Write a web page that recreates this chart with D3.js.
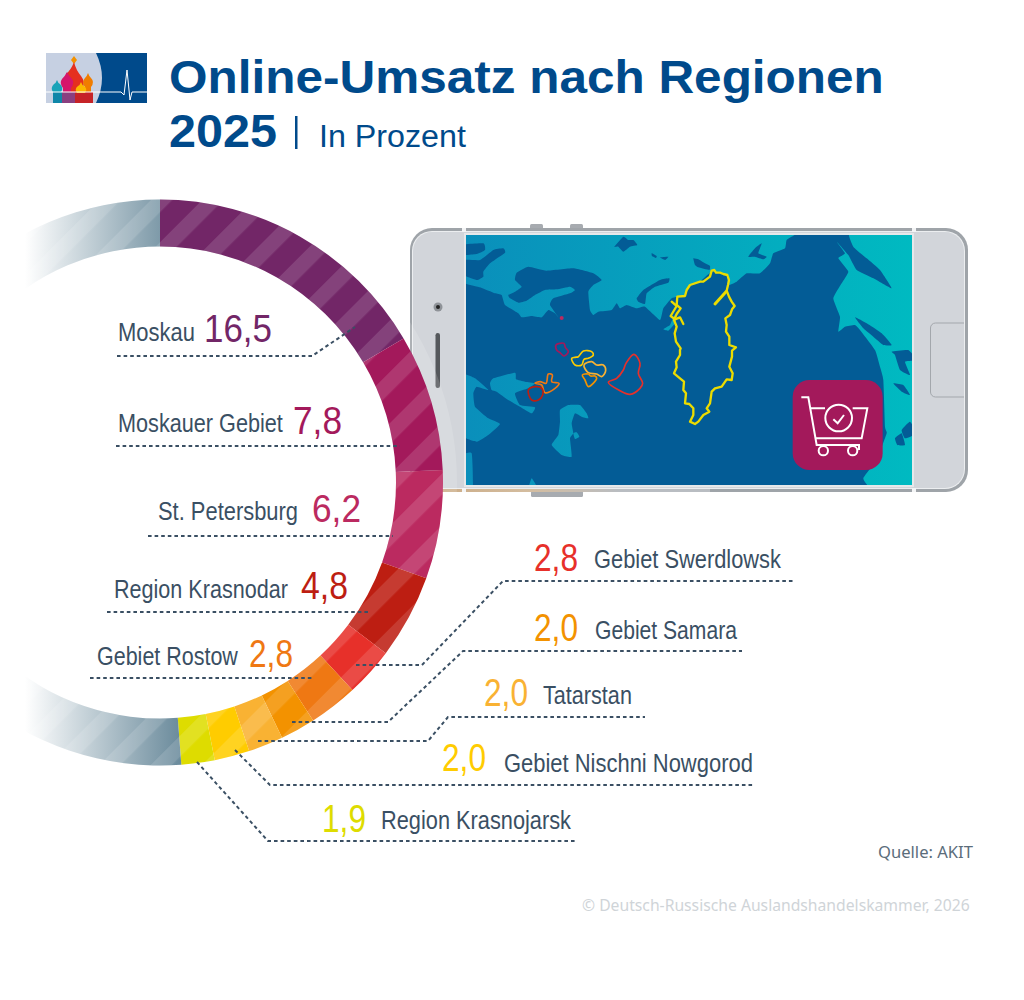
<!DOCTYPE html>
<html>
<head>
<meta charset="utf-8">
<script src="https://d3js.org/d3.v7.min.js"></script>
<style>
  html, body { margin: 0; background: #fff; }
  svg { display: block; }
  .name { font-family: "Liberation Sans", sans-serif; font-size: 25px; fill: #3a4f63; }
  .value { font-family: "Liberation Sans", sans-serif; font-size: 38px; }
  .head { font-family: "Liberation Sans", sans-serif; fill: #004a8b; }
  .foot { font-family: "Noto Sans", sans-serif; font-size: 16px; }
</style>
</head>
<body>
<div id="chart"></div>
<script>
// chart values
const regions = ["Moskau", "Moskauer Gebiet", "St. Petersburg", "Region Krasnodar", "Gebiet Swerdlowsk",
  "Gebiet Rostow", "Gebiet Samara", "Tatarstan", "Gebiet Nischni Nowgorod", "Region Krasnojarsk"];
const shares = [16.5, 7.8, 6.2, 4.8, 2.8, 2.8, 2.0, 2.0, 2.0, 1.9];
const rest = 51.2;
const colours = ["#722667", "#a3195b", "#bb2a60", "#bd1e12", "#e7302a", "#ef7813", "#f39200", "#f9b233", "#ffcc00", "#dedc00"];

// label placement, same order as regions
const callouts = [
  { nx: 118, nw: 77, ny: 341, vx: 204, vw: 68, vy: 342, line: [[117, 356], [312, 356], [355, 327]] },
  { nx: 118, nw: 165, ny: 432, vx: 293, vw: 49, vy: 434, line: [[116, 446], [400, 446]] },
  { nx: 158, nw: 140, ny: 520, vx: 312, vw: 49, vy: 522, line: [[148, 536], [393, 536]] },
  { nx: 114, nw: 174, ny: 598, vx: 301, vw: 47, vy: 599, line: [[107, 612], [368, 612]] },
  { nx: 594, nw: 187, ny: 568, vx: 534, vw: 44, vy: 571, line: [[356, 665], [422, 665], [503, 581], [793, 581]] },
  { nx: 97, nw: 141, ny: 665, vx: 249, vw: 44, vy: 667, line: [[90, 678], [313, 678]] },
  { nx: 595, nw: 142, ny: 639, vx: 534, vw: 44, vy: 641, line: [[292, 722], [388, 722], [463, 651], [742, 651]] },
  { nx: 543, nw: 89, ny: 704, vx: 484, vw: 44, vy: 706, line: [[258, 741], [428, 741], [448, 717], [645, 717]] },
  { nx: 504, nw: 249, ny: 772, vx: 442, vw: 44, vy: 771, line: [[235, 750], [270, 785], [753, 785]] },
  { nx: 381, nw: 190, ny: 829, vx: 322, vw: 44, vy: 832, line: [[197, 762], [268, 841], [577, 841]] }
];

// map outlines, in 3x pixels from (460,230)
const seaNorth = [[0,0],[1010,0],[1005,14],[980,30],[975,55],[940,70],[930,100],[900,130],[860,130],[830,155],[805,165],[800,135],[755,125],[720,155],[690,165],[675,195],[650,200],[635,205],[610,235],[600,270],[555,230],[530,235],[500,225],[480,235],[470,220],[455,240],[415,245],[400,255],[390,240],[385,185],[400,165],[425,150],[400,130],[340,115],[260,122],[205,110],[170,128],[165,150],[185,170],[165,185],[145,195],[150,205],[175,218],[200,212],[225,195],[255,180],[290,178],[330,170],[345,180],[330,190],[280,205],[270,225],[300,268],[285,250],[265,240],[245,262],[215,258],[185,262],[175,250],[135,225],[125,195],[105,190],[60,172],[0,150]];
const seaEast = [[1170,0],[1370,0],[1370,780],[1240,780],[1210,745],[1250,690],[1280,610],[1275,590],[1270,450],[1260,410],[1245,360],[1200,300],[1185,285],[1155,290],[1135,305],[1140,260],[1120,205],[1145,160],[1165,125],[1135,85],[1155,70],[1130,35],[1165,75],[1190,120],[1240,145],[1295,175],[1260,120],[1220,85],[1180,50]];
const seaPatches = [
  [[610,298],[630,285],[640,262],[650,250],[645,280],[625,302]],
  [[90,460],[100,445],[165,428],[168,448],[195,455],[225,460],[205,475],[165,490],[180,525],[225,532],[215,550],[180,530],[145,510],[110,485],[95,480]],
  [[0,435],[45,445],[85,480],[50,470],[40,490],[45,530],[85,565],[120,582],[85,615],[50,635],[0,610]],
  [[300,540],[325,525],[360,525],[380,550],[385,565],[365,560],[345,550],[335,580],[340,610],[330,625],[335,680],[305,675],[275,645],[295,615],[300,575]],
  [[340,610],[350,607],[358,620],[345,627]],
  [[0,680],[35,670],[38,780],[0,780]],
  [[205,780],[215,745],[235,780]]
];
const islands = [
  [[0,45],[70,40],[75,60],[50,72],[0,75]],
  [[0,90],[60,90],[100,60],[130,55],[135,68],[90,100],[70,125],[70,140],[50,150],[0,130]],
  [[463,50],[490,20],[505,30],[520,30],[532,45],[510,50],[490,65],[475,50]],
  [[575,70],[590,78],[588,84],[576,78]],[[600,82],[625,80],[615,90]],
  [[530,205],[550,180],[600,150],[628,145],[625,158],[585,170],[560,190],[555,222],[535,215]],
  [[700,85],[715,88],[735,100],[750,108],[748,120],[715,112],[705,105]],
  [[865,80],[885,55],[905,40],[895,70],[920,80],[910,88],[885,80]],
  [[1185,262],[1220,280],[1265,310],[1295,345],[1270,345],[1240,320],[1210,295]],
  [[1295,365],[1345,360],[1370,390],[1335,395],[1350,435],[1320,420],[1305,375]],
  [[1300,460],[1330,465],[1350,495],[1325,485]],
  [[1305,625],[1325,610],[1335,645],[1312,645]],
  [[1325,600],[1350,575],[1370,610],[1335,625]]
];
const outlines = [
  { i: 1, pts: [[288,345],[300,340],[312,340],[316,352],[325,365],[312,378],[300,368],[290,360]] },
  { i: 8, pts: [[335,385],[345,382],[355,380],[370,363],[395,365],[400,375],[385,385],[372,388],[365,405],[345,405]] },
  { i: 7, pts: [[372,405],[395,395],[410,405],[430,405],[437,422],[425,440],[410,432],[385,428]] },
  { i: 6, pts: [[367,435],[385,432],[392,438],[405,438],[410,445],[385,470],[375,450]] },
  { i: 4, pts: [[445,457],[470,445],[490,420],[498,400],[522,373],[540,400],[535,430],[548,460],[540,475],[510,493],[480,482]] },
  { i: 5, pts: [[225,460],[240,455],[258,460],[265,432],[277,435],[275,455],[297,460],[285,475],[255,488],[245,465]] },
  { i: 3, pts: [[205,480],[225,470],[245,475],[248,495],[235,510],[215,510]] }
];
const krasnojarsk = [[755,122],[763,120],[768,128],[780,128],[790,132],[802,135],[807,150],[804,165],[800,182],[807,200],[815,215],[824,228],[816,238],[810,255],[796,265],[800,285],[798,305],[808,320],[808,345],[828,352],[816,362],[816,380],[808,410],[818,430],[815,450],[800,448],[785,470],[765,475],[755,485],[750,520],[740,535],[748,545],[730,555],[715,575],[705,582],[690,575],[700,555],[700,535],[688,522],[675,520],[678,490],[670,480],[672,455],[660,445],[642,430],[650,412],[648,395],[660,375],[660,360],[662,355],[648,335],[644,310],[650,290],[642,270],[650,252],[662,235],[650,225],[652,200],[675,198],[680,180],[690,165],[720,155],[730,155],[750,140]];
const krasnojarskSpur = [[798,185],[765,222]];
const krasnojarskWest = [[635,215],[650,228],[632,258],[645,268],[660,262],[670,282]];

const W = 1024, H = 1000;
const svg = d3.select("#chart").append("svg").attr("width", W).attr("height", H);
const defs = svg.append("defs");

// ring geometry; gradient and stripes live in the ring's local coordinates
const cx = 160, cy = 482.5, outer = 283, inner = 236;

const restGrad = defs.append("linearGradient").attr("id", "restGrad").attr("gradientUnits", "userSpaceOnUse")
  .attr("x1", 25 - cx).attr("x2", 180 - cx).attr("y1", 0).attr("y2", 0);
restGrad.append("stop").attr("offset", 0).attr("stop-color", "#fff");
restGrad.append("stop").attr("offset", 1).attr("stop-color", "#6b8b9c");

const stripes = defs.append("pattern").attr("id", "stripes").attr("patternUnits", "userSpaceOnUse")
  .attr("width", 36.3).attr("height", 10)
  .attr("patternTransform", `translate(${-cx},${-cy}) rotate(45) translate(-5.9,0)`);
stripes.append("rect").attr("width", 15).attr("height", 10).attr("fill", "#fff").attr("fill-opacity", 0.13);

const seaGrad = defs.append("linearGradient").attr("id", "sea").attr("gradientUnits", "userSpaceOnUse")
  .attr("x1", 20).attr("x2", 1356).attr("y1", 0).attr("y2", 0);
seaGrad.append("stop").attr("offset", 0).attr("stop-color", "#0a8fbb");
seaGrad.append("stop").attr("offset", 1).attr("stop-color", "#00bac1");

const edge = defs.append("linearGradient").attr("id", "edge").attr("x1", 0).attr("x2", 1).attr("y1", 0).attr("y2", 0);
edge.append("stop").attr("offset", 0).attr("stop-color", "#c9a77f");
edge.append("stop").attr("offset", 0.4).attr("stop-color", "#d4bda0");
edge.append("stop").attr("offset", 0.7).attr("stop-color", "#b9bdc2");

defs.append("clipPath").attr("id", "screen").append("rect").attr("x", 466).attr("y", 235).attr("width", 446).attr("height", 250);
defs.append("clipPath").attr("id", "body").append("rect").attr("x", 413).attr("y", 232).attr("width", 551).attr("height", 256).attr("rx", 19);

// phone
const phone = svg.append("g");
phone.selectAll("rect.btn").data([[530, 224, 13, 5], [570, 224, 13, 5], [531, 491, 52, 6]]).enter().append("rect")
  .attr("class", "btn").attr("x", d => d[0]).attr("y", d => d[1]).attr("width", d => d[2]).attr("height", d => d[3])
  .attr("rx", 1.5).attr("fill", "#a7abb0");
phone.append("rect").attr("x", 410).attr("y", 228).attr("width", 558).attr("height", 264).attr("rx", 22).attr("fill", "#9fa4a9");
phone.append("rect").attr("x", 410).attr("y", 488).attr("width", 300).attr("height", 4).attr("fill", "url(#edge)");
phone.append("rect").attr("x", 412).attr("y", 231).attr("width", 553).attr("height", 258).attr("rx", 20).attr("fill", "#eceef0");
phone.append("rect").attr("x", 413).attr("y", 232).attr("width", 551).attr("height", 256).attr("rx", 19).attr("fill", "#d2d5da");
phone.append("circle").attr("cx", 438).attr("cy", 307).attr("r", 4.5).attr("fill", "#8f9398");
phone.append("circle").attr("cx", 438).attr("cy", 307).attr("r", 2).attr("fill", "#222");
phone.append("rect").attr("x", 435.5).attr("y", 333).attr("width", 4.5).attr("height", 55).attr("rx", 2.2).attr("fill", "#55585c");
phone.append("g").attr("clip-path", "url(#body)").append("rect")
  .attr("x", 930.5).attr("y", 323).attr("width", 50).attr("height", 74).attr("rx", 5)
  .attr("fill", "none").attr("stroke", "#a3a7ac");
phone.append("rect").attr("x", 464).attr("y", 233).attr("width", 450).attr("height", 254).attr("fill", "#e6e8ea");
phone.selectAll("rect.notch").data([[462, 228], [912, 228], [462, 488], [912, 488]]).enter().append("rect")
  .attr("class", "notch").attr("x", d => d[0]).attr("y", d => d[1]).attr("width", 4).attr("height", 4).attr("fill", "#f4f5f6");

// map
const coast = d3.line().curve(d3.curveCardinalClosed.tension(0.6));
const wiggle = d3.line().curve(d3.curveCatmullRomClosed.alpha(0.5));
const closedLine = d3.line().curve(d3.curveLinearClosed);
const openLine = d3.line();
const mapClip = phone.append("g").attr("clip-path", "url(#screen)");
mapClip.append("rect").attr("x", 466).attr("y", 235).attr("width", 446).attr("height", 250).attr("fill", "#035c96");
const map = mapClip.append("g").attr("transform", "translate(460,230) scale(0.33333)");
map.selectAll("path.sea").data([seaNorth, seaEast].concat(seaPatches)).enter().append("path")
  .attr("class", "sea").attr("d", coast).attr("fill", "url(#sea)");
map.selectAll("path.land").data(islands).enter().append("path")
  .attr("class", "land").attr("d", coast).attr("fill", "#035c96");
map.selectAll("path.region").data(outlines).enter().append("path")
  .attr("class", "region").attr("d", d => wiggle(d.pts)).attr("fill", "none")
  .attr("stroke", d => colours[d.i]).attr("stroke-width", 5).attr("stroke-linejoin", "round");
map.append("path").attr("d", closedLine(krasnojarsk)).attr("fill", "none").attr("stroke", "#ecdc00")
  .attr("stroke-width", 7).attr("stroke-linejoin", "round");
map.append("path").attr("d", openLine(krasnojarskSpur)).attr("fill", "none").attr("stroke", "#ecdc00")
  .attr("stroke-width", 9).attr("stroke-linecap", "round");
map.append("path").attr("d", openLine(krasnojarskWest)).attr("fill", "none").attr("stroke", "#ecdc00")
  .attr("stroke-width", 7).attr("stroke-linejoin", "round").attr("stroke-linecap", "round");
map.append("circle").attr("cx", 305).attr("cy", 264).attr("r", 6).attr("fill", colours[2]);

// cart badge
const badge = map.append("g").attr("transform", "translate(600,360)");
badge.append("rect").attr("x", 398).attr("y", 90).attr("width", 270).attr("height", 270).attr("rx", 50).attr("fill", "#a3195b");
const cart = badge.append("g").attr("fill", "none").attr("stroke", "#fff").attr("stroke-width", 6);
cart.append("path").attr("d", "M424 142H445L470 285H597V300");
cart.append("path").attr("d", "M450 175H495M578 175H622L605 265H465");
cart.append("circle").attr("cx", 536).attr("cy", 204).attr("r", 40);
cart.append("path").attr("d", "M520 208L533 220L552 195");
cart.append("circle").attr("cx", 490).attr("cy", 302).attr("r", 14);
cart.append("circle").attr("cx", 578).attr("cy", 302).attr("r", 14);

// ring
const pie = d3.pie().sort(null).startAngle(0).endAngle(2 * Math.PI)(shares.concat([rest]));
const arc = d3.arc().innerRadius(inner).outerRadius(outer);
const ring = svg.append("g").attr("transform", `translate(${cx},${cy})`);

ring.append("circle").attr("r", outer + 7).attr("fill", "none").attr("stroke", "#fff")
  .attr("stroke-width", 14).attr("stroke-opacity", 0.15);
ring.selectAll("path.seg").data(pie).enter().append("path")
  .attr("class", "seg").attr("d", arc)
  .attr("fill", d => d.index === shares.length ? "url(#restGrad)" : colours[d.index]);
ring.selectAll("path.stripe").data(pie).enter().append("path")
  .attr("class", "stripe").attr("d", arc).attr("fill", "url(#stripes)");

// squeezes a text horizontally to the width it has in the picture
function fit(sel, x, y, width) {
  sel.each(function(d, i) {
    const len = this.getComputedTextLength();
    const w = typeof width === "function" ? width(d, i) : width;
    const px = typeof x === "function" ? x(d, i) : x;
    const py = typeof y === "function" ? y(d, i) : y;
    d3.select(this).attr("transform", `translate(${px},${py}) scale(${w / len},1)`);
  });
  return sel;
}

// labels and leaders
const fmt = v => d3.format(".1f")(v).replace(".", ",");
const label = svg.append("g").selectAll("g").data(regions).enter().append("g");
label.append("path")
  .attr("d", (d, i) => openLine(callouts[i].line))
  .attr("fill", "none").attr("stroke", "#3a4f63").attr("stroke-width", 2).attr("stroke-dasharray", "3.6 3");
label.append("text").attr("class", "name").text(d => d)
  .call(fit, (d, i) => callouts[i].nx, (d, i) => callouts[i].ny, (d, i) => callouts[i].nw);
label.append("text").attr("class", "value").attr("fill", (d, i) => colours[i])
  .text((d, i) => fmt(shares[i]))
  .call(fit, (d, i) => callouts[i].vx, (d, i) => callouts[i].vy, (d, i) => callouts[i].vw);

// header logo
const logo = svg.append("g");
logo.append("rect").attr("x", 46).attr("y", 53).attr("width", 101).attr("height", 50).attr("fill", "#c6d0e2");
logo.append("path").attr("d", "M96 53H147V103H96Q108 78 96 53Z").attr("fill", "#004a8b");
const domes = [
  ["#f39200", "M74 56L77 60L74 64L71 60Z"],
  ["#e5301f", "M74 62Q76 70 81 76Q85 81 83 88V93H66V74Q71 70 74 62Z"],
  ["#d5156b", "M67 72Q69 76 72 79Q75 83 71 88V93H63V88Q59 83 62 79Q65 76 67 72Z"],
  ["#f07d00", "M88 73Q89 76 91 78Q95 82 91 87V93H85V87Q81 82 85 78Q87 76 88 73Z"],
  ["#19a3b8", "M57 80Q58 83 60 84Q64 88 61 92H53Q50 88 54 84Q56 83 57 80Z"],
  ["#0f86a8", "M53 92H62V103H53Z"],
  ["#8a3f80", "M62 92H75V103H62Z"],
  ["#c62327", "M75 92H93V103H75Z"],
  ["#fbb900", "M81 82Q82 85 84 86Q88 89 85 93H77Q74 89 78 86Q80 85 81 82Z"]
];
logo.selectAll("path.dome").data(domes).enter().append("path").attr("class", "dome")
  .attr("d", d => d[1]).attr("fill", d => d[0]);
logo.append("path").attr("d", "M46 92H121L124 95L127 70L130 100L132 92H147").attr("fill", "none")
  .attr("stroke", "#fff").attr("stroke-width", 1);

// header text
svg.append("text").attr("class", "head").attr("font-size", 46).attr("font-weight", 700)
  .text("Online-Umsatz nach Regionen").call(fit, 169, 93, 715);
svg.append("text").attr("class", "head").attr("font-size", 46).attr("font-weight", 700)
  .text("2025").call(fit, 169, 147, 108);
svg.append("rect").attr("x", 295).attr("y", 116).attr("width", 2.5).attr("height", 33).attr("fill", "#004a8b");
svg.append("text").attr("class", "head").attr("font-size", 31)
  .text("In Prozent").call(fit, 319, 147, 147);

// footer
svg.append("text").attr("class", "foot").attr("fill", "#5b6d7b").text("Quelle: AKIT").call(fit, 878, 858, 95);
svg.append("text").attr("class", "foot").attr("fill", "#cfd4d8")
  .text("© Deutsch-Russische Auslandshandelskammer, 2026").call(fit, 582, 911, 388);
</script>
</body>
</html>
